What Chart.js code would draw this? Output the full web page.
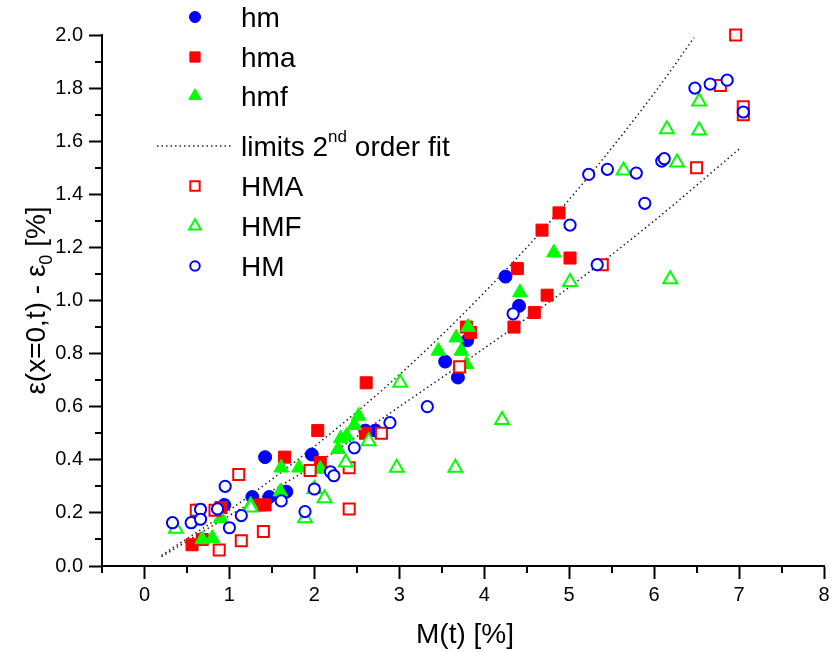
<!DOCTYPE html>
<html>
<head>
<meta charset="utf-8">
<script src="https://cdn.jsdelivr.net/npm/chart.js@4.4.0/dist/chart.umd.min.js"></script>
<style>
  html, body { margin: 0; padding: 0; background: #fff; }
  #wrap { width: 834px; height: 652px; }
</style>
</head>
<body>
<div id="wrap"><canvas id="chart" width="834" height="652"></canvas></div>
<script>
// measured series (x = M(t) [%], y = strain [%])
const hmX = [0.94, 1.27, 1.42, 1.47, 1.67, 1.97, 2.60, 2.72, 3.54, 3.69, 3.80, 4.25, 4.41];
const hmY = [0.23, 0.26, 0.41, 0.26, 0.28, 0.42, 0.51, 0.51, 0.77, 0.71, 0.85, 1.09, 0.98];

const hmaX = [0.56, 0.68, 0.64, 0.90, 1.36, 1.42, 1.65, 2.04, 2.07, 2.60, 2.61, 3.79, 3.84, 4.35, 4.39, 4.59, 4.68, 4.74, 4.88, 5.01];
const hmaY = [0.08, 0.10, 0.21, 0.22, 0.23, 0.23, 0.41, 0.51, 0.39, 0.50, 0.69, 0.90, 0.88, 0.90, 1.12, 0.955, 1.265, 1.02, 1.33, 1.16];

const hmfX = [0.68, 0.80, 0.90, 1.25, 1.60, 1.61, 1.82, 2.07, 2.28, 2.31, 2.38, 2.47, 2.52, 3.46, 3.67, 3.73, 3.79, 3.81, 4.42, 4.82];
const hmfY = [0.10, 0.105, 0.18, 0.23, 0.28, 0.37, 0.37, 0.365, 0.44, 0.48, 0.49, 0.53, 0.565, 0.81, 0.86, 0.81, 0.76, 0.90, 1.03, 1.18];

const HMAX = [0.61, 0.83, 0.88, 1.11, 1.14, 1.40, 1.95, 2.41, 2.41, 2.79, 3.71, 5.39, 6.50, 6.78, 6.96, 7.05, 7.05];
const HMAY = [0.21, 0.21, 0.06, 0.345, 0.095, 0.13, 0.36, 0.37, 0.215, 0.50, 0.75, 1.135, 1.50, 1.81, 2.00, 1.73, 1.70];

const HMFX = [0.37, 1.25, 1.89, 2.00, 2.12, 2.37, 2.64, 2.97, 3.01, 3.66, 4.21, 5.01, 5.64, 6.15, 6.19, 6.27, 6.53, 6.53];
const HMFY = [0.14, 0.22, 0.18, 0.29, 0.255, 0.39, 0.47, 0.37, 0.69, 0.37, 0.55, 1.07, 1.49, 1.645, 1.08, 1.52, 1.64, 1.75];

const HMX = [0.33, 0.55, 0.66, 0.66, 0.86, 0.95, 1.00, 1.14, 1.61, 1.89, 2.00, 2.19, 2.23, 2.47, 2.89, 3.33, 4.34, 5.01, 5.23, 5.33, 5.45, 5.79, 5.89, 6.09, 6.12, 6.48, 6.66, 6.86, 7.05];
const HMY = [0.163, 0.163, 0.213, 0.176, 0.215, 0.30, 0.144, 0.19, 0.245, 0.205, 0.29, 0.355, 0.34, 0.445, 0.54, 0.60, 0.95, 1.284, 1.475, 1.135, 1.494, 1.48, 1.366, 1.525, 1.534, 1.80, 1.815, 1.83, 1.71];

// limits of the 2nd order fit
const upperX = [0.2, 1.0, 2.0, 3.0, 4.0, 5.0, 6.0, 6.47];
const upperY = [0.04, 0.21, 0.45, 0.72, 1.03, 1.38, 1.78, 1.99];
const lowerX = [0.2, 1.0, 2.0, 3.0, 4.0, 5.0, 6.0, 7.0];
const lowerY = [0.035, 0.19, 0.38, 0.60, 0.82, 1.05, 1.30, 1.57];

// axes
const xTicks = [0, 1, 2, 3, 4, 5, 6, 7, 8];
const xMinor = [-0.5, 0.5, 1.5, 2.5, 3.5, 4.5, 5.5, 6.5, 7.5];
const yTicks = [0, 0.2, 0.4, 0.6, 0.8, 1.0, 1.2, 1.4, 1.6, 1.8, 2.0];
const yMinor = [0.1, 0.3, 0.5, 0.7, 0.9, 1.1, 1.3, 1.5, 1.7, 1.9];

const FONT = '"Liberation Sans", Arial, sans-serif';

function pts(xs, ys) {
    return xs.map((x, i) => ({ x: x, y: ys[i] }));
}

// marker styles, shared by the plot and the legend
const styles = {
    hm:  { pointStyle: 'circle',   radius: 6.5, backgroundColor: '#0000ff', borderColor: '#0000ff', borderWidth: 1 },
    hma: { pointStyle: 'rect',     radius: 8.5, backgroundColor: '#ff0000', borderColor: '#ff0000', borderWidth: 1 },
    hmf: { pointStyle: 'triangle', radius: 8.5, backgroundColor: '#00ff00', borderColor: '#00ff00', borderWidth: 1 },
    HMA: { pointStyle: 'rect',     radius: 7.8, backgroundColor: '#ffffff', borderColor: '#ff0000', borderWidth: 2 },
    HMF: { pointStyle: 'triangle', radius: 8,   backgroundColor: '#ffffff', borderColor: '#00ff00', borderWidth: 2 },
    HM:  { pointStyle: 'circle',   radius: 5.6, backgroundColor: '#ffffff', borderColor: '#0000ff', borderWidth: 2 }
};

function markerSet(name, data, order) {
    const s = styles[name];
    return {
        label: name,
        data: data,
        order: order,
        pointStyle: s.pointStyle,
        pointRadius: s.radius,
        pointBackgroundColor: s.backgroundColor,
        pointBorderColor: s.borderColor,
        pointBorderWidth: s.borderWidth,
        showLine: false,
        clip: false
    };
}

function limitSet(label, data) {
    return {
        label: label,
        data: data,
        order: 10,
        showLine: true,
        pointRadius: 0,
        borderColor: '#222',
        borderWidth: 1.5,
        borderDash: [1.5, 3],
        cubicInterpolationMode: 'monotone',
        fill: false,
        clip: false
    };
}

// minor ticks, titles and the legend
const extras = {
    id: 'extras',
    afterDraw(chart) {
        const ctx = chart.ctx;
        const xs = chart.scales.x, ys = chart.scales.y;
        const area = chart.chartArea;

        ctx.save();
        ctx.strokeStyle = '#000';
        ctx.lineWidth = 2;
        ctx.beginPath();
        xMinor.forEach(v => {
            const px = Math.round(xs.getPixelForValue(v));
            ctx.moveTo(px, area.bottom);
            ctx.lineTo(px, area.bottom + 7);
        });
        yMinor.forEach(v => {
            const py = Math.round(ys.getPixelForValue(v));
            ctx.moveTo(area.left, py);
            ctx.lineTo(area.left - 7, py);
        });
        ctx.stroke();

        ctx.fillStyle = '#000';
        ctx.textBaseline = 'alphabetic';

        // x title
        ctx.font = '28px ' + FONT;
        ctx.textAlign = 'center';
        ctx.fillText('M(t) [%]', (area.left + area.right) / 2 + 2, 643);

        // y title with subscript
        ctx.save();
        ctx.translate(45, (area.top + area.bottom) / 2);
        ctx.rotate(-Math.PI / 2);
        ctx.textAlign = 'left';
        const big = '28px ' + FONT, small = '18px ' + FONT;
        const parts = [['ε(x=0,t) - ε', big, 0], ['0', small, 7], [' [%]', big, 0]];
        let total = 0;
        parts.forEach(p => { ctx.font = p[1]; total += ctx.measureText(p[0]).width; });
        let cx = -total / 2;
        parts.forEach(p => {
            ctx.font = p[1];
            ctx.fillText(p[0], cx, p[2]);
            cx += ctx.measureText(p[0]).width;
        });
        ctx.restore();

        // legend
        const symX = 195, textX = 241;
        const rows = [
            ['hm', 17], ['hma', 57], ['hmf', 96], ['limits', 146],
            ['HMA', 186], ['HMF', 226], ['HM', 266]
        ];
        ctx.font = '28px ' + FONT;
        ctx.textAlign = 'left';
        rows.forEach(r => {
            const name = r[0], y = r[1];
            if (name === 'limits') {
                ctx.save();
                ctx.strokeStyle = '#222';
                ctx.lineWidth = 1.5;
                ctx.setLineDash([1.5, 3]);
                ctx.beginPath();
                ctx.moveTo(157, y);
                ctx.lineTo(233, y);
                ctx.stroke();
                ctx.restore();
                let lx = textX;
                ctx.font = '28px ' + FONT;
                ctx.fillText('limits 2', lx, y + 10);
                lx += ctx.measureText('limits 2').width;
                ctx.font = '17px ' + FONT;
                ctx.fillText('nd', lx, y - 4);
                lx += ctx.measureText('nd').width;
                ctx.font = '28px ' + FONT;
                ctx.fillText(' order fit', lx, y + 10);
                return;
            }
            const s = styles[name];
            ctx.fillStyle = s.backgroundColor;
            ctx.strokeStyle = s.borderColor;
            ctx.lineWidth = s.borderWidth;
            Chart.helpers.drawPoint(ctx, {
                pointStyle: s.pointStyle,
                radius: s.radius * 0.85,
                borderWidth: s.borderWidth,
                rotation: 0
            }, symX, y);
            ctx.fillStyle = '#000';
            ctx.font = '28px ' + FONT;
            ctx.fillText(name, textX, y + 10);
        });
        ctx.restore();
    }
};

const ctx = document.getElementById('chart').getContext('2d');
const chart = new Chart(ctx, {
    type: 'scatter',
    data: {
        datasets: [
            markerSet('HM', pts(HMX, HMY), 1),
            markerSet('HMF', pts(HMFX, HMFY), 2),
            markerSet('HMA', pts(HMAX, HMAY), 3),
            markerSet('hmf', pts(hmfX, hmfY), 4),
            markerSet('hma', pts(hmaX, hmaY), 5),
            markerSet('hm', pts(hmX, hmY), 6),
            limitSet('upper limit', pts(upperX, upperY)),
            limitSet('lower limit', pts(lowerX, lowerY))
        ]
    },
    options: {
        responsive: false,
        animation: false,
        devicePixelRatio: 1,
        layout: { padding: { top: 35, right: 6, left: 0, bottom: 0 } },
        plugins: {
            legend: { display: false },
            tooltip: { enabled: false }
        },
        scales: {
            x: {
                type: 'linear',
                min: -0.5,
                max: 8,
                afterBuildTicks: scale => { scale.ticks = xTicks.map(v => ({ value: v })); },
                afterFit: scale => { scale.height = 86; },
                grid: { display: true, drawOnChartArea: false, drawTicks: true, tickLength: 13, tickWidth: 2, tickColor: '#000' },
                border: { display: true, color: '#000', width: 2 },
                ticks: {
                    color: '#000',
                    padding: 4,
                    maxRotation: 0,
                    font: { family: FONT, size: 20 },
                    callback: v => String(v)
                }
            },
            y: {
                type: 'linear',
                min: 0,
                max: 2.0,
                afterBuildTicks: scale => { scale.ticks = yTicks.map(v => ({ value: v })); },
                afterFit: scale => { scale.width = 102; },
                grid: { display: true, drawOnChartArea: false, drawTicks: true, tickLength: 13, tickWidth: 2, tickColor: '#000' },
                border: { display: true, color: '#000', width: 2 },
                ticks: {
                    color: '#000',
                    padding: 6,
                    font: { family: FONT, size: 20 },
                    callback: v => v.toFixed(1)
                }
            }
        }
    },
    plugins: [extras]
});
</script>
</body>
</html>
